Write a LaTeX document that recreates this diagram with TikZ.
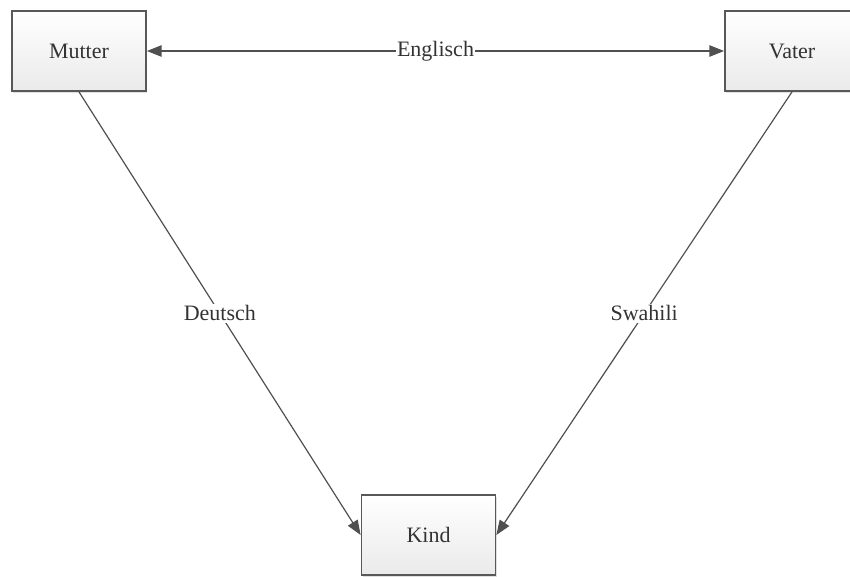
\documentclass[tikz,border=0pt]{standalone}
\usepackage{fontspec}
\setmainfont{Liberation Serif}
\newfontfamily\labelfont{Liberation Serif}
\usetikzlibrary{arrows.meta,shadows}
\definecolor{edge}{HTML}{505050}
\definecolor{boxline}{HTML}{585858}
\definecolor{boxbottom}{HTML}{EAEAEA}
\begin{document}
\begin{tikzpicture}[x=0.75pt,y=-0.75pt,
  person/.style={draw=boxline,line width=1.3pt,top color=white,bottom color=boxbottom,
    minimum width=100.5pt,minimum height=60pt,inner sep=0pt,
    font=\labelfont\fontsize{16.5}{19}\selectfont,text=black!80,
    drop shadow={shadow xshift=1pt,shadow yshift=-1.5pt,fill=black,opacity=0.12}},
  tip/.style={Triangle[length=11pt,width=8.5pt]},
  link/.style={draw=edge,line width=0.9pt,-{Triangle[length=11pt,width=8.5pt]}},
  lang/.style={fill=white,inner sep=1pt,font=\labelfont\fontsize{16.5}{19}\selectfont,text=black!80}]
  \useasboundingbox (0,0) rectangle (850,577);
  \node[person] (mutter) at (79,51) {Mutter};
  \node[person] (vater) at (792,51) {Vater};
  \node[person] (kind) at (428.5,535) {Kind};
  \draw[link,{Triangle[length=11pt,width=8.5pt]}-{Triangle[length=11pt,width=8.5pt]}]
    (mutter) -- node[lang] {Englisch} (vater);
  \draw[link] (mutter.south) -- node[lang] {Deutsch} (kind.west);
  \draw[link] (vater.south) -- node[lang] {Swahili} (kind.east);
\end{tikzpicture}
\end{document}
